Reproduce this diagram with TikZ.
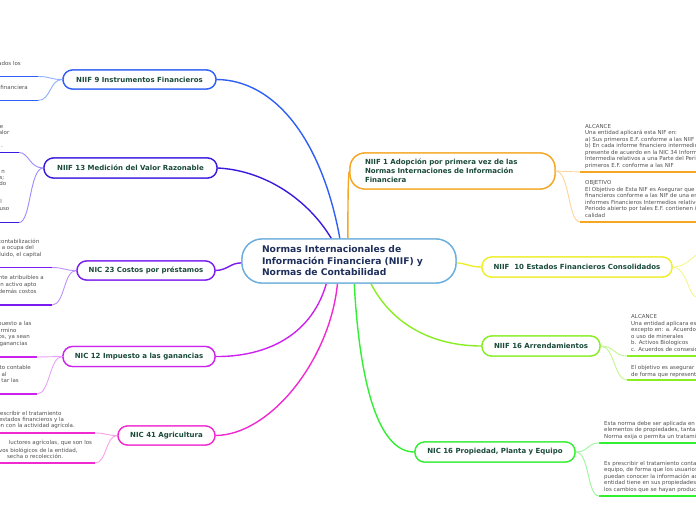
\documentclass[tikz,border=0pt]{standalone}
\usepackage{fontspec}
\setmainfont{DejaVu Sans}
\definecolor{cCenter}{HTML}{6AAEDD}
\definecolor{cTitle}{HTML}{1A4A3A}
\definecolor{cCtext}{HTML}{1E2F5C}
\definecolor{cSmall}{HTML}{505050}
\definecolor{cNa}{HTML}{2F5FF5}\definecolor{cNal}{HTML}{8FAEFF}
\definecolor{cNb}{HTML}{3A1AE0}\definecolor{cNbl}{HTML}{9A8CFF}
\definecolor{cNc}{HTML}{7A1CF0}\definecolor{cNcl}{HTML}{BC90FA}
\definecolor{cNd}{HTML}{CC22EE}\definecolor{cNdl}{HTML}{E8A0F8}
\definecolor{cNe}{HTML}{F02AD0}\definecolor{cNel}{HTML}{FAA0E8}
\definecolor{cNf}{HTML}{F5A623}\definecolor{cNfl}{HTML}{FCD49A}
\definecolor{cNg}{HTML}{EEEE2A}\definecolor{cNgl}{HTML}{F5F590}
\definecolor{cNh}{HTML}{88EE22}\definecolor{cNhl}{HTML}{C2F590}
\definecolor{cNi}{HTML}{33EE33}\definecolor{cNil}{HTML}{9CF59C}
\tikzset{
  branch/.style={draw, line width=1.3pt, fill=white, rounded corners=9.5pt, inner sep=0pt,
    minimum height=19pt, font=\bfseries\fontsize{7}{9}\selectfont, text=cTitle},
  smalltxt/.style={font=\fontsize{5.5}{6.5}\selectfont, text=cSmall, inner sep=0pt,
    text height=4pt, text depth=1.2pt},
  conn/.style={line width=1.4pt},
  subconn/.style={line width=0.9pt},
  uline/.style={line width=1.8pt},
}
\newcommand{\tlines}[5]{%
  \foreach \l [count=\i from 0] in {#5}
    \node[smalltxt, anchor=west] (#1-\i) at ({#2},{#3+\i*#4}) {\l};}
\begin{document}
\begin{tikzpicture}[x=1pt,y=-1pt]
\useasboundingbox (0,0) rectangle (696,520);
\clip (0,0) rectangle (696,520);

% ---------- nodes (positions) ----------
\node[draw=cCenter, line width=1.3pt, fill=white, rounded corners=20pt, inner sep=0pt,
  minimum width=214pt, minimum height=44pt, text width=174pt, align=left,
  font=\bfseries\fontsize{9.2}{11.5}\selectfont, text=cCtext] (ctr) at (349,261)
  {Normas Internacionales de\\Información Financiera (NIIF) y\\Normas de Contabilidad};

\node[branch, draw=cNa, minimum width=153pt] (n9) at (139.5,79.5) {NIIF 9 Instrumentos Financieros};
\node[branch, draw=cNb, minimum width=173pt, minimum height=20pt] (n13) at (130.5,168) {NIIF 13 Medición del Valor Razonable};
\node[branch, draw=cNc, minimum width=138pt] (n23) at (146,270.5) {NIC 23 Costos por préstamos};
\node[branch, draw=cNd, minimum width=152pt, minimum height=20pt] (n12) at (139,356.5) {NIC 12 Impuesto a las ganancias};
\node[branch, draw=cNe, minimum width=97pt] (n41) at (166.5,435.5) {NIC 41 Agricultura};
\node[branch, draw=cNf, minimum width=205pt, minimum height=36pt, rounded corners=15pt,
  text width=175pt, align=left] (n1) at (452.5,171)
  {NIIF 1 Adopción por primera vez de las\\Normas Internaciones de Información\\Financiera};
\node[branch, draw=cNg, minimum width=190pt, minimum height=20pt] (n10) at (577,267) {NIIF~ 10 Estados Financieros Consolidados};
\node[branch, draw=cNh, minimum width=118pt, minimum height=20pt] (n16) at (541,346) {NIIF 16 Arrendamientos};
\node[branch, draw=cNi, minimum width=160pt, minimum height=20pt] (nppe) at (495,452) {NIC 16 Propiedad, Planta y Equipo};

% ---------- main connectors ----------
\begin{scope}[on background layer/.try]
\end{scope}
\draw[conn, cNa] (ctr.112) .. controls (322,140) and (275,80) .. (n9.east);
\draw[conn, cNb] (ctr.128) .. controls (305,195) and (260,170) .. (n13.east);
\draw[conn, cNc] (ctr.181) .. controls (230,263) and (228,270) .. (n23.east);
\draw[conn, cNd] (ctr.-135) .. controls (310,340) and (260,357) .. (n12.east);
\draw[conn, cNe] (ctr.-117) .. controls (330,360) and (270,435) .. (n41.east);
\draw[conn, cNf] (ctr.93) .. controls (348,200) and (348,175) .. (n1.west);
\draw[conn, cNg] (ctr.-1) .. controls (465,263) and (470,267) .. (n10.west);
\draw[conn, cNh] (ctr.-46) .. controls (395,330) and (440,346) .. (n16.west);
\draw[conn, cNi] (ctr.-77) .. controls (360,390) and (380,452) .. (nppe.west);

% redraw nodes on top of connector ends
\node[draw=cCenter, line width=1.3pt, fill=white, rounded corners=20pt, inner sep=0pt,
  minimum width=214pt, minimum height=44pt, text width=174pt, align=left,
  font=\bfseries\fontsize{9.2}{11.5}\selectfont, text=cCtext] (ctrtop) at (ctr)
  {Normas Internacionales de\\Información Financiera (NIIF) y\\Normas de Contabilidad};
\node[branch, draw=cNa, minimum width=153pt] (n9t) at (n9) {NIIF 9 Instrumentos Financieros};
\node[branch, draw=cNb, minimum width=173pt, minimum height=20pt] (n13t) at (n13) {NIIF 13 Medición del Valor Razonable};
\node[branch, draw=cNc, minimum width=138pt] (n23t) at (n23) {NIC 23 Costos por préstamos};
\node[branch, draw=cNd, minimum width=152pt, minimum height=20pt] (n12t) at (n12) {NIC 12 Impuesto a las ganancias};
\node[branch, draw=cNe, minimum width=97pt] (n41t) at (n41) {NIC 41 Agricultura};
\node[branch, draw=cNf, minimum width=205pt, minimum height=36pt, rounded corners=15pt,
  text width=175pt, align=left] (n1t) at (n1)
  {NIIF 1 Adopción por primera vez de las\\Normas Internaciones de Información\\Financiera};
\node[branch, draw=cNg, minimum width=190pt, minimum height=20pt] (n10t) at (n10) {NIIF~ 10 Estados Financieros Consolidados};
\node[branch, draw=cNh, minimum width=118pt, minimum height=20pt] (n16t) at (n16) {NIIF 16 Arrendamientos};
\node[branch, draw=cNi, minimum width=160pt, minimum height=20pt] (nppet) at (nppe) {NIC 16 Propiedad, Planta y Equipo};

% ---------- NIIF 9 children ----------
\coordinate (u9a) at (38,76.5); \coordinate (u9b) at (38,100.5);
\draw[subconn, cNal] (n9.west) .. controls +(-13,0) and +(13,0) .. (u9a);
\draw[subconn, cNal] (n9.west) .. controls +(-13,0) and +(13,0) .. (u9b);
\draw[uline, cNa] (u9a) -- ++(-40,0);
\draw[uline, cNa] (u9b) -- ++(-40,0);
\node[smalltxt, anchor=east] (f9a) at (21,64) {ados los};
\node[smalltxt, anchor=east] (f9b) at (28,88) {financiera};

% ---------- NIIF 13 children ----------
\coordinate (u13a) at (19,152.5); \coordinate (u13b) at (19,222.5);
\draw[subconn, cNbl] (n13.west) .. controls +(-14,0) and +(10,0) .. (u13a);
\draw[subconn, cNbl] (n13.west) .. controls +(-14,0) and +(12,0) .. (u13b);
\draw[uline, cNb] (u13a) -- ++(-21,0);
\draw[uline, cNb] (u13b) -- ++(-21,0);
\node[smalltxt, anchor=east] (f13a) at (3.5,127) {e};
\node[smalltxt, anchor=east] (f13b) at (9.5,133) {alor};
\node[smalltxt, anchor=east] (f13c) at (3,146) {.};
\node[smalltxt, anchor=east] (f13d) at (5,172) {n};
\node[smalltxt, anchor=east] (f13e) at (4.5,178) {s;};
\node[smalltxt, anchor=east] (f13f) at (6.5,184) {do};
\node[smalltxt, anchor=east] (f13g) at (2,202) {l};
\node[smalltxt, anchor=east] (f13h) at (9.5,209) {uso};

% ---------- NIC 23 children ----------
\coordinate (u23a) at (52,267.5); \coordinate (u23b) at (52,305);
\draw[subconn, cNcl] (n23.west) .. controls +(-13,0) and +(13,0) .. (u23a);
\draw[subconn, cNcl] (n23.west) .. controls +(-13,0) and +(13,0) .. (u23b);
\draw[uline, cNc] (u23a) -- ++(-54,0);
\draw[uline, cNc] (u23b) -- ++(-54,0);
\node[smalltxt, anchor=east] (f23a) at (39.5,241.7) {contabilización};
\node[smalltxt, anchor=east] (f23b) at (34,248.5) {a ocupa del};
\node[smalltxt, anchor=east] (f23c) at (41.7,255) {luido, el capital};
\node[smalltxt, anchor=east] (f23d) at (44,278) {nte atribuibles a};
\node[smalltxt, anchor=east] (f23e) at (36.7,285) {n activo apto};
\node[smalltxt, anchor=east] (f23f) at (36.7,292) {demás costos};

% ---------- NIC 12 children ----------
\coordinate (u12a) at (37,357); \coordinate (u12b) at (37,394);
\draw[subconn, cNdl] (n12.west) .. controls +(-13,0) and +(13,0) .. (u12a);
\draw[subconn, cNdl] (n12.west) .. controls +(-13,0) and +(13,0) .. (u12b);
\draw[uline, cNd] (u12a) -- ++(-39,0);
\draw[uline, cNd] (u12b) -- ++(-39,0);
\node[smalltxt, anchor=east] (f12a) at (31.7,324) {puesto a las};
\node[smalltxt, anchor=east] (f12b) at (16.7,331) {rmino};
\node[smalltxt, anchor=east] (f12c) at (30,337) {os, ya sean};
\node[smalltxt, anchor=east] (f12d) at (27.7,344) {ganancias};
\node[smalltxt, anchor=east] (f12e) at (31,368) {to contable};
\node[smalltxt, anchor=east] (f12f) at (6.7,375) {al};
\node[smalltxt, anchor=east] (f12g) at (19,381) {tar las};

% ---------- NIC 41 children ----------
\coordinate (u41a) at (95,433); \coordinate (u41b) at (95,463);
\draw[subconn, cNel] (n41.west) .. controls +(-12,0) and +(12,0) .. (u41a);
\draw[subconn, cNel] (n41.west) .. controls +(-12,0) and +(12,0) .. (u41b);
\draw[uline, cNe] (u41a) -- ++(-97,0);
\draw[uline, cNe] (u41b) -- ++(-97,0);
\node[smalltxt, anchor=east] (f41a) at (61.7,414) {rescribir el tratamiento};
\node[smalltxt, anchor=east] (f41b) at (64.3,420) {s estados financieros y la};
\node[smalltxt, anchor=east] (f41c) at (75,426) {ón con la actividad agrícola.};
\node[smalltxt, anchor=east] (f41d) at (92.3,443) {luctores agrícolas, que son los};
\node[smalltxt, anchor=east] (f41e) at (77.7,451) {vos biológicos de la entidad,};
\node[smalltxt, anchor=east] (f41f) at (63.3,457) {secha o recolección.};

% ---------- NIIF 1 children ----------
\coordinate (u1a) at (580,172); \coordinate (u1b) at (580,222);
\draw[subconn, cNfl] (n1.east) .. controls +(12,0) and +(-12,0) .. (u1a);
\draw[subconn, cNfl] (n1.east) .. controls +(14,0) and +(-12,0) .. (u1b);
\draw[uline, cNf] (u1a) -- ++(130,0);
\draw[uline, cNf] (u1b) -- ++(130,0);
\tlines{t1a}{585}{127}{6.5}{ALCANCE, Una entidad aplicará esta NIF en:, a) Sus primeros E.F. conforme a las NIIF, b) En cada informe financiero intermedio, presente de acuerdo en la NIC 34 Información, Intermedia relativos a una Parte del Periodo, primeros E.F. conforme a las NIF}
\tlines{t1b}{585}{183}{6.6}{OBJETIVO, El Objetivo de Esta NIF  es Asegurar que, financieros conforme a las NIF de una entidad, informes Financieros Intermedios relativos, Periodo abierto por tales E.F. contienen información, calidad}

% ---------- NIIF 10 children ----------
\draw[subconn, cNgl] (n10.east) .. controls +(14,0) and +(-8,4) .. ++(28,-15);
\draw[subconn, cNgl] (n10.east) .. controls +(14,0) and +(-8,0) .. ++(24,30);

% ---------- NIIF 16 children ----------
\coordinate (u16a) at (627,356); \coordinate (u16b) at (627,380);
\draw[subconn, cNhl] (n16.east) .. controls +(14,0) and +(-13,0) .. (u16a);
\draw[subconn, cNhl] (n16.east) .. controls +(14,0) and +(-13,0) .. (u16b);
\draw[uline, cNh] (u16a) -- ++(80,0);
\draw[uline, cNh] (u16b) -- ++(80,0);
\tlines{t16a}{631}{317}{6.6}{ALCANCE, Una entidad aplicara esta, excepto en: a. Acuerdos de, o uso de minerales, b. Activos Biologicos, c. Acuerdos de consesión}
\tlines{t16b}{631}{368}{6.8}{El objetivo es asegurar que, de forma que representen}

% ---------- NIC 16 PPE children ----------
\coordinate (uPa) at (599,443); \coordinate (uPb) at (599,496);
\draw[subconn, cNil] (nppe.east) .. controls +(13,0) and +(-12,0) .. (uPa);
\draw[subconn, cNil] (nppe.east) .. controls +(14,0) and +(-12,0) .. (uPb);
\draw[uline, cNi] (uPa) -- ++(110,0);
\draw[uline, cNi] (uPb) -- ++(110,0);
\tlines{tPa}{604}{424}{6.4}{Esta norma debe ser aplicada en la, {elementos de propiedades, tanta}, Norma exija o permita un tratamiento}
\tlines{tPb}{604}{464}{6.5}{Es prescribir el tratamiento contable, {equipo, de forma que los usuarios}, puedan conocer la información acerca, {entidad tiene en sus propiedades,}, los cambios que se hayan producido}
\end{tikzpicture}
\end{document}
